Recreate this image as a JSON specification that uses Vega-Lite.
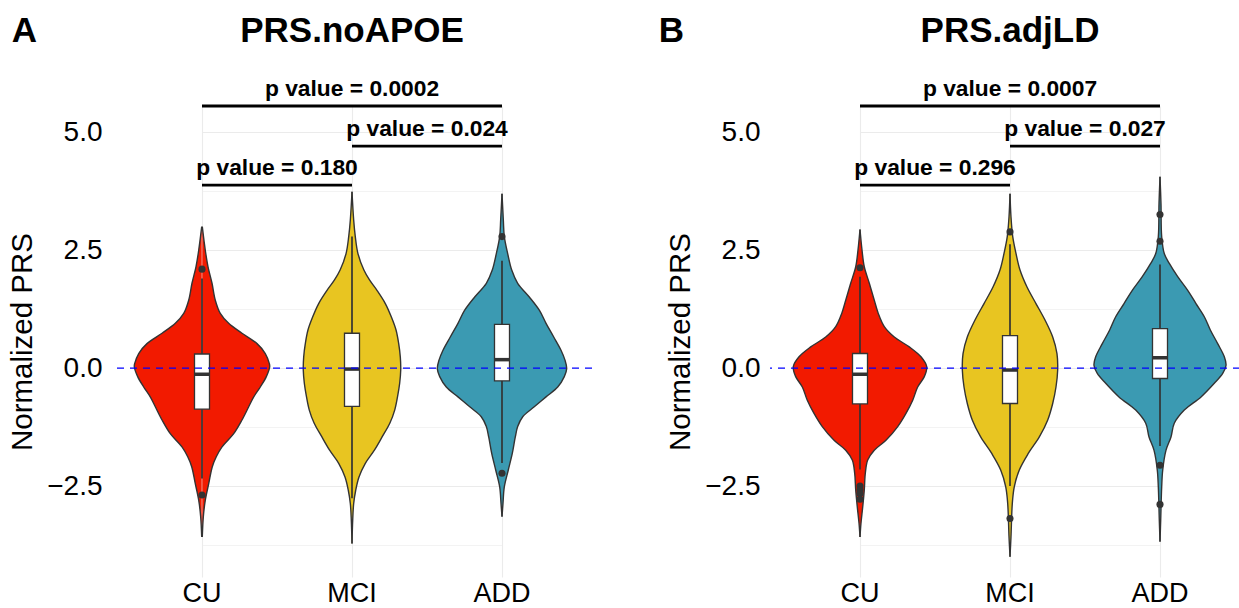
{
  "$schema": "https://vega.github.io/schema/vega-lite/v6.json",
  "padding": {"left": 7, "top": 14, "right": 0, "bottom": 0},
  "config": {
    "font": "Liberation Sans",
    "view": {"stroke": null},
    "axis": {"domain": false, "ticks": false, "tickSize": 0, "grid": true, "gridColor": "#EBEBEB", "labelColor": "#000000", "titleColor": "#000000", "labelFontSize": 28, "titleFontSize": 29.5, "titleFontWeight": "normal"},
    "title": {"color": "#000000", "fontWeight": "bold", "fontSize": 35}
  },
  "datasets": {
    "viol": [
      {"p":"A","g":"CU","v":3.00,"d":0.004},{"p":"A","g":"CU","v":2.50,"d":0.047},{"p":"A","g":"CU","v":2.15,"d":0.086},{"p":"A","g":"CU","v":1.80,"d":0.143},{"p":"A","g":"CU","v":1.44,"d":0.19},{"p":"A","g":"CU","v":1.16,"d":0.261},{"p":"A","g":"CU","v":0.95,"d":0.381},{"p":"A","g":"CU","v":0.74,"d":0.571},{"p":"A","g":"CU","v":0.52,"d":0.786},{"p":"A","g":"CU","v":0.31,"d":0.904},{"p":"A","g":"CU","v":0.10,"d":0.961},{"p":"A","g":"CU","v":0.03,"d":0.967},{"p":"A","g":"CU","v":-0.18,"d":0.919},{"p":"A","g":"CU","v":-0.40,"d":0.833},{"p":"A","g":"CU","v":-0.61,"d":0.739},{"p":"A","g":"CU","v":-0.82,"d":0.667},{"p":"A","g":"CU","v":-1.10,"d":0.571},{"p":"A","g":"CU","v":-1.39,"d":0.453},{"p":"A","g":"CU","v":-1.67,"d":0.286},{"p":"A","g":"CU","v":-1.88,"d":0.204},{"p":"A","g":"CU","v":-2.09,"d":0.147},{"p":"A","g":"CU","v":-2.45,"d":0.096},{"p":"A","g":"CU","v":-2.80,"d":0.047},{"p":"A","g":"CU","v":-3.15,"d":0.019},{"p":"A","g":"CU","v":-3.58,"d":0.004},
      {"p":"A","g":"MCI","v":3.74,"d":0.0},{"p":"A","g":"MCI","v":3.14,"d":0.024},{"p":"A","g":"MCI","v":2.79,"d":0.047},{"p":"A","g":"MCI","v":2.43,"d":0.085},{"p":"A","g":"MCI","v":2.08,"d":0.17},{"p":"A","g":"MCI","v":1.87,"d":0.25},{"p":"A","g":"MCI","v":1.65,"d":0.357},{"p":"A","g":"MCI","v":1.37,"d":0.476},{"p":"A","g":"MCI","v":1.09,"d":0.561},{"p":"A","g":"MCI","v":0.81,"d":0.629},{"p":"A","g":"MCI","v":0.52,"d":0.667},{"p":"A","g":"MCI","v":0.24,"d":0.69},{"p":"A","g":"MCI","v":-0.04,"d":0.696},{"p":"A","g":"MCI","v":-0.32,"d":0.681},{"p":"A","g":"MCI","v":-0.61,"d":0.65},{"p":"A","g":"MCI","v":-0.89,"d":0.61},{"p":"A","g":"MCI","v":-1.17,"d":0.54},{"p":"A","g":"MCI","v":-1.46,"d":0.43},{"p":"A","g":"MCI","v":-1.74,"d":0.32},{"p":"A","g":"MCI","v":-2.02,"d":0.19},{"p":"A","g":"MCI","v":-2.31,"d":0.1},{"p":"A","g":"MCI","v":-2.59,"d":0.053},{"p":"A","g":"MCI","v":-2.87,"d":0.024},{"p":"A","g":"MCI","v":-3.22,"d":0.01},{"p":"A","g":"MCI","v":-3.72,"d":0.0},
      {"p":"A","g":"ADD","v":3.70,"d":0.0},{"p":"A","g":"ADD","v":3.14,"d":0.019},{"p":"A","g":"ADD","v":2.79,"d":0.033},{"p":"A","g":"ADD","v":2.43,"d":0.081},{"p":"A","g":"ADD","v":2.08,"d":0.139},{"p":"A","g":"ADD","v":1.80,"d":0.224},{"p":"A","g":"ADD","v":1.51,"d":0.39},{"p":"A","g":"ADD","v":1.23,"d":0.533},{"p":"A","g":"ADD","v":0.95,"d":0.629},{"p":"A","g":"ADD","v":0.66,"d":0.739},{"p":"A","g":"ADD","v":0.38,"d":0.843},{"p":"A","g":"ADD","v":0.17,"d":0.9},{"p":"A","g":"ADD","v":-0.01,"d":0.924},{"p":"A","g":"ADD","v":-0.18,"d":0.89},{"p":"A","g":"ADD","v":-0.40,"d":0.796},{"p":"A","g":"ADD","v":-0.61,"d":0.629},{"p":"A","g":"ADD","v":-0.82,"d":0.461},{"p":"A","g":"ADD","v":-1.03,"d":0.296},{"p":"A","g":"ADD","v":-1.24,"d":0.224},{"p":"A","g":"ADD","v":-1.46,"d":0.19},{"p":"A","g":"ADD","v":-1.81,"d":0.147},{"p":"A","g":"ADD","v":-2.16,"d":0.09},{"p":"A","g":"ADD","v":-2.52,"d":0.033},{"p":"A","g":"ADD","v":-2.87,"d":0.014},{"p":"A","g":"ADD","v":-3.15,"d":0.0},
      {"p":"B","g":"CU","v":2.94,"d":0.0},{"p":"B","g":"CU","v":2.50,"d":0.029},{"p":"B","g":"CU","v":2.15,"d":0.061},{"p":"B","g":"CU","v":1.80,"d":0.133},{"p":"B","g":"CU","v":1.44,"d":0.204},{"p":"B","g":"CU","v":1.16,"d":0.261},{"p":"B","g":"CU","v":0.88,"d":0.347},{"p":"B","g":"CU","v":0.66,"d":0.49},{"p":"B","g":"CU","v":0.45,"d":0.704},{"p":"B","g":"CU","v":0.24,"d":0.871},{"p":"B","g":"CU","v":0.03,"d":0.953},{"p":"B","g":"CU","v":-0.18,"d":0.919},{"p":"B","g":"CU","v":-0.40,"d":0.824},{"p":"B","g":"CU","v":-0.68,"d":0.753},{"p":"B","g":"CU","v":-0.96,"d":0.657},{"p":"B","g":"CU","v":-1.24,"d":0.539},{"p":"B","g":"CU","v":-1.53,"d":0.371},{"p":"B","g":"CU","v":-1.74,"d":0.204},{"p":"B","g":"CU","v":-1.95,"d":0.11},{"p":"B","g":"CU","v":-2.23,"d":0.076},{"p":"B","g":"CU","v":-2.59,"d":0.061},{"p":"B","g":"CU","v":-2.94,"d":0.039},{"p":"B","g":"CU","v":-3.29,"d":0.014},{"p":"B","g":"CU","v":-3.58,"d":0.0},
      {"p":"B","g":"MCI","v":3.70,"d":0.0},{"p":"B","g":"MCI","v":3.21,"d":0.014},{"p":"B","g":"MCI","v":2.79,"d":0.039},{"p":"B","g":"MCI","v":2.43,"d":0.086},{"p":"B","g":"MCI","v":2.08,"d":0.143},{"p":"B","g":"MCI","v":1.72,"d":0.243},{"p":"B","g":"MCI","v":1.37,"d":0.371},{"p":"B","g":"MCI","v":1.02,"d":0.5},{"p":"B","g":"MCI","v":0.66,"d":0.61},{"p":"B","g":"MCI","v":0.31,"d":0.671},{"p":"B","g":"MCI","v":-0.04,"d":0.681},{"p":"B","g":"MCI","v":-0.40,"d":0.657},{"p":"B","g":"MCI","v":-0.75,"d":0.61},{"p":"B","g":"MCI","v":-1.10,"d":0.539},{"p":"B","g":"MCI","v":-1.46,"d":0.419},{"p":"B","g":"MCI","v":-1.81,"d":0.261},{"p":"B","g":"MCI","v":-2.16,"d":0.133},{"p":"B","g":"MCI","v":-2.52,"d":0.061},{"p":"B","g":"MCI","v":-2.87,"d":0.033},{"p":"B","g":"MCI","v":-3.58,"d":0.014},{"p":"B","g":"MCI","v":-4.00,"d":0.0},
      {"p":"B","g":"ADD","v":4.06,"d":0.0},{"p":"B","g":"ADD","v":3.49,"d":0.014},{"p":"B","g":"ADD","v":2.79,"d":0.024},{"p":"B","g":"ADD","v":2.43,"d":0.061},{"p":"B","g":"ADD","v":2.22,"d":0.133},{"p":"B","g":"ADD","v":1.94,"d":0.253},{"p":"B","g":"ADD","v":1.65,"d":0.396},{"p":"B","g":"ADD","v":1.37,"d":0.514},{"p":"B","g":"ADD","v":1.09,"d":0.633},{"p":"B","g":"ADD","v":0.81,"d":0.719},{"p":"B","g":"ADD","v":0.52,"d":0.824},{"p":"B","g":"ADD","v":0.24,"d":0.919},{"p":"B","g":"ADD","v":0.06,"d":0.943},{"p":"B","g":"ADD","v":-0.11,"d":0.896},{"p":"B","g":"ADD","v":-0.32,"d":0.776},{"p":"B","g":"ADD","v":-0.61,"d":0.586},{"p":"B","g":"ADD","v":-0.89,"d":0.347},{"p":"B","g":"ADD","v":-1.17,"d":0.204},{"p":"B","g":"ADD","v":-1.46,"d":0.157},{"p":"B","g":"ADD","v":-1.74,"d":0.086},{"p":"B","g":"ADD","v":-2.16,"d":0.039},{"p":"B","g":"ADD","v":-2.52,"d":0.024},{"p":"B","g":"ADD","v":-3.22,"d":0.01},{"p":"B","g":"ADD","v":-3.68,"d":0.0}
    ],
    "box": [
      {"p":"A","g":"CU","lo":-2.34,"q1":-0.87,"med":-0.13,"q3":0.30,"hi":1.90},
      {"p":"A","g":"MCI","lo":-2.76,"q1":-0.81,"med":-0.02,"q3":0.74,"hi":2.79},
      {"p":"A","g":"ADD","lo":-2.01,"q1":-0.27,"med":0.18,"q3":0.93,"hi":2.28},
      {"p":"B","g":"CU","lo":-2.15,"q1":-0.76,"med":-0.13,"q3":0.31,"hi":1.94},
      {"p":"B","g":"MCI","lo":-2.50,"q1":-0.75,"med":-0.04,"q3":0.69,"hi":2.63},
      {"p":"B","g":"ADD","lo":-1.65,"q1":-0.22,"med":0.22,"q3":0.84,"hi":2.20}
    ],
    "out": [
      {"p":"A","g":"CU","v":2.10},{"p":"A","g":"CU","v":-2.69},
      {"p":"A","g":"ADD","v":2.79},{"p":"A","g":"ADD","v":-2.23},
      {"p":"B","g":"CU","v":2.13},{"p":"B","g":"CU","v":-2.50},{"p":"B","g":"CU","v":-2.58},{"p":"B","g":"CU","v":-2.66},{"p":"B","g":"CU","v":-2.78},
      {"p":"B","g":"MCI","v":2.89},{"p":"B","g":"MCI","v":-3.19},
      {"p":"B","g":"ADD","v":3.26},{"p":"B","g":"ADD","v":2.69},{"p":"B","g":"ADD","v":-2.06},{"p":"B","g":"ADD","v":-2.89}
    ],
    "sig": [
      {"p":"A","from":"CU","to":"MCI","at":"CU|MCI","y":3.88,"label":"p value = 0.180"},
      {"p":"A","from":"MCI","to":"ADD","at":"MCI|ADD","y":4.71,"label":"p value = 0.024"},
      {"p":"A","from":"CU","to":"ADD","at":"MCI","y":5.56,"label":"p value = 0.0002"},
      {"p":"B","from":"CU","to":"MCI","at":"CU|MCI","y":3.88,"label":"p value = 0.296"},
      {"p":"B","from":"MCI","to":"ADD","at":"MCI|ADD","y":4.71,"label":"p value = 0.027"},
      {"p":"B","from":"CU","to":"ADD","at":"MCI","y":5.56,"label":"p value = 0.0007"}
    ]
  },
  "spacing": 65,
  "hconcat": [
    {
      "title": {"text": "A", "anchor": "start", "frame": "bounds", "offset": -35, "dx": 4, "fontSize": 35},
      "vconcat": [
        {
          "width": 480, "height": 471,
          "title": {"text": "PRS.noAPOE", "anchor": "middle", "frame": "group", "offset": 29},
          "resolve": {"scale": {"xOffset": "independent"}},
          "layer": [
            {
              "data": {"name": "viol"}, "transform": [{"filter": "datum.p === 'A'"}],
              "mark": {"type": "line", "interpolate": "catmull-rom", "stroke": "#333333", "strokeWidth": 1.4, "strokeJoin": "round"},
              "encoding": {
                "x": {"field": "g", "type": "nominal", "scale": {"type": "band", "domain": ["CU","CU|MCI","MCI","MCI|ADD","ADD"], "range": [90, 390], "paddingInner": 1, "paddingOuter": 0}, "axis": {"values": ["CU","MCI","ADD"], "title": null, "labelPadding": 3, "labelFontSize": 27, "labelAngle": 0, "gridWidth": 1.1}},
                "xOffset": {"field": "d", "type": "quantitative", "scale": {"domain": [0, 1], "range": [0, 70]}},
                "y": {"field": "v", "type": "quantitative", "scale": {"domain": [-4.43, 5.56], "nice": false, "zero": false}, "axis": {"values": [-3.75,-2.5,-1.25,0,1.25,2.5,3.75,5], "labelExpr": "abs(datum.value) % 2.5 < 0.001 ? format(datum.value, '.1f') : ''", "labelOverlap": false, "labelPadding": 10, "title": "Normalized PRS", "titlePadding": 9, "gridWidth": {"condition": {"test": "abs(datum.value) % 2.5 > 0.001", "value": 0.6}, "value": 1.1}}},
                "order": {"field": "v", "type": "quantitative"},
                "fill": {"field": "g", "type": "nominal", "scale": {"domain": ["CU","MCI","ADD"], "range": ["#F21A00","#E8C521","#3B9AB2"]}, "legend": null}
              }
            },
            {
              "data": {"name": "viol"}, "transform": [{"filter": "datum.p === 'A'"}],
              "mark": {"type": "line", "interpolate": "catmull-rom", "stroke": "#333333", "strokeWidth": 1.4, "strokeJoin": "round"},
              "encoding": {
                "x": {"field": "g", "type": "nominal"},
                "xOffset": {"field": "d", "type": "quantitative", "scale": {"domain": [0, 1], "range": [0, -70]}},
                "y": {"field": "v", "type": "quantitative"},
                "order": {"field": "v", "type": "quantitative"},
                "fill": {"field": "g", "type": "nominal", "legend": null}
              }
            },
            {
              "data": {"name": "box"}, "transform": [{"filter": "datum.p === 'A'"}],
              "mark": {"type": "rule", "color": "#333333", "strokeWidth": 1.7},
              "encoding": {"x": {"field": "g", "type": "nominal"}, "y": {"field": "lo", "type": "quantitative"}, "y2": {"field": "hi"}}
            },
            {
              "data": {"name": "box"}, "transform": [{"filter": "datum.p === 'A'"}],
              "mark": {"type": "bar", "width": 15, "fill": "#FFFFFF", "stroke": "#333333", "strokeWidth": 1.3},
              "encoding": {"x": {"field": "g", "type": "nominal"}, "y": {"field": "q1", "type": "quantitative"}, "y2": {"field": "q3"}}
            },
            {
              "data": {"name": "box"}, "transform": [{"filter": "datum.p === 'A'"}],
              "mark": {"type": "tick", "color": "#333333", "thickness": 3.5, "size": 15, "opacity": 1},
              "encoding": {"x": {"field": "g", "type": "nominal"}, "y": {"field": "med", "type": "quantitative"}}
            },
            {
              "data": {"name": "out"}, "transform": [{"filter": "datum.p === 'A'"}],
              "mark": {"type": "circle", "size": 50, "color": "#333333", "opacity": 1},
              "encoding": {"x": {"field": "g", "type": "nominal"}, "y": {"field": "v", "type": "quantitative"}}
            },
            {
              "data": {"values": [{}]},
              "mark": {"type": "rule", "color": "#0000FF", "strokeDash": [7, 6], "strokeWidth": 1.3},
              "encoding": {"y": {"datum": 0, "type": "quantitative"}}
            },
            {
              "data": {"name": "sig"}, "transform": [{"filter": "datum.p === 'A'"}],
              "mark": {"type": "rule", "color": "#000000", "strokeWidth": 2.8},
              "encoding": {"x": {"field": "from", "type": "nominal"}, "x2": {"field": "to"}, "y": {"field": "y", "type": "quantitative"}}
            },
            {
              "data": {"name": "sig"}, "transform": [{"filter": "datum.p === 'A'"}],
              "mark": {"type": "text", "fontSize": 22.8, "fontWeight": "bold", "baseline": "alphabetic", "dy": -10, "color": "#000000"},
              "encoding": {"x": {"field": "at", "type": "nominal"}, "y": {"field": "y", "type": "quantitative"}, "text": {"field": "label"}}
            }
          ]
        }
      ]
    },
    {
      "title": {"text": "B", "anchor": "start", "frame": "bounds", "offset": -35, "dx": -7, "fontSize": 35},
      "vconcat": [
        {
          "width": 470, "height": 471,
          "title": {"text": "PRS.adjLD", "anchor": "middle", "frame": "group", "offset": 29, "dx": 5},
          "resolve": {"scale": {"xOffset": "independent"}},
          "layer": [
            {
              "data": {"name": "viol"}, "transform": [{"filter": "datum.p === 'B'"}],
              "mark": {"type": "line", "interpolate": "catmull-rom", "stroke": "#333333", "strokeWidth": 1.4, "strokeJoin": "round"},
              "encoding": {
                "x": {"field": "g", "type": "nominal", "scale": {"type": "band", "domain": ["CU","CU|MCI","MCI","MCI|ADD","ADD"], "range": [90, 390], "paddingInner": 1, "paddingOuter": 0}, "axis": {"values": ["CU","MCI","ADD"], "title": null, "labelPadding": 3, "labelFontSize": 27, "labelAngle": 0, "gridWidth": 1.1}},
                "xOffset": {"field": "d", "type": "quantitative", "scale": {"domain": [0, 1], "range": [0, 70]}},
                "y": {"field": "v", "type": "quantitative", "scale": {"domain": [-4.43, 5.56], "nice": false, "zero": false}, "axis": {"values": [-3.75,-2.5,-1.25,0,1.25,2.5,3.75,5], "labelExpr": "abs(datum.value) % 2.5 < 0.001 ? format(datum.value, '.1f') : ''", "labelOverlap": false, "labelPadding": 10, "title": "Normalized PRS", "titlePadding": 9, "gridWidth": {"condition": {"test": "abs(datum.value) % 2.5 > 0.001", "value": 0.6}, "value": 1.1}}},
                "order": {"field": "v", "type": "quantitative"},
                "fill": {"field": "g", "type": "nominal", "scale": {"domain": ["CU","MCI","ADD"], "range": ["#F21A00","#E8C521","#3B9AB2"]}, "legend": null}
              }
            },
            {
              "data": {"name": "viol"}, "transform": [{"filter": "datum.p === 'B'"}],
              "mark": {"type": "line", "interpolate": "catmull-rom", "stroke": "#333333", "strokeWidth": 1.4, "strokeJoin": "round"},
              "encoding": {
                "x": {"field": "g", "type": "nominal"},
                "xOffset": {"field": "d", "type": "quantitative", "scale": {"domain": [0, 1], "range": [0, -70]}},
                "y": {"field": "v", "type": "quantitative"},
                "order": {"field": "v", "type": "quantitative"},
                "fill": {"field": "g", "type": "nominal", "legend": null}
              }
            },
            {
              "data": {"name": "box"}, "transform": [{"filter": "datum.p === 'B'"}],
              "mark": {"type": "rule", "color": "#333333", "strokeWidth": 1.7},
              "encoding": {"x": {"field": "g", "type": "nominal"}, "y": {"field": "lo", "type": "quantitative"}, "y2": {"field": "hi"}}
            },
            {
              "data": {"name": "box"}, "transform": [{"filter": "datum.p === 'B'"}],
              "mark": {"type": "bar", "width": 15, "fill": "#FFFFFF", "stroke": "#333333", "strokeWidth": 1.3},
              "encoding": {"x": {"field": "g", "type": "nominal"}, "y": {"field": "q1", "type": "quantitative"}, "y2": {"field": "q3"}}
            },
            {
              "data": {"name": "box"}, "transform": [{"filter": "datum.p === 'B'"}],
              "mark": {"type": "tick", "color": "#333333", "thickness": 3.5, "size": 15, "opacity": 1},
              "encoding": {"x": {"field": "g", "type": "nominal"}, "y": {"field": "med", "type": "quantitative"}}
            },
            {
              "data": {"name": "out"}, "transform": [{"filter": "datum.p === 'B'"}],
              "mark": {"type": "circle", "size": 50, "color": "#333333", "opacity": 1},
              "encoding": {"x": {"field": "g", "type": "nominal"}, "y": {"field": "v", "type": "quantitative"}}
            },
            {
              "data": {"values": [{}]},
              "mark": {"type": "rule", "color": "#0000FF", "strokeDash": [7, 6], "strokeWidth": 1.3},
              "encoding": {"y": {"datum": 0, "type": "quantitative"}}
            },
            {
              "data": {"name": "sig"}, "transform": [{"filter": "datum.p === 'B'"}],
              "mark": {"type": "rule", "color": "#000000", "strokeWidth": 2.8},
              "encoding": {"x": {"field": "from", "type": "nominal"}, "x2": {"field": "to"}, "y": {"field": "y", "type": "quantitative"}}
            },
            {
              "data": {"name": "sig"}, "transform": [{"filter": "datum.p === 'B'"}],
              "mark": {"type": "text", "fontSize": 22.8, "fontWeight": "bold", "baseline": "alphabetic", "dy": -10, "color": "#000000"},
              "encoding": {"x": {"field": "at", "type": "nominal"}, "y": {"field": "y", "type": "quantitative"}, "text": {"field": "label"}}
            }
          ]
        }
      ]
    }
  ]
}
